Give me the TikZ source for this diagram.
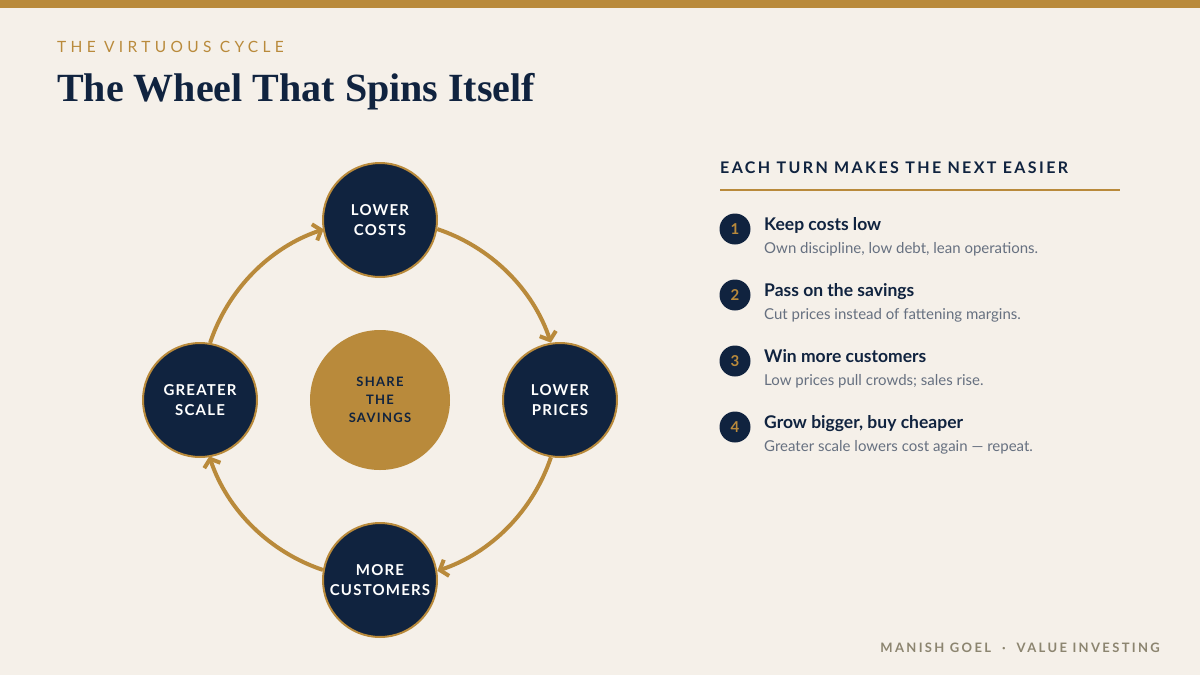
\documentclass[tikz,border=0pt]{standalone}
\usepackage{fontspec}
\setmainfont{Lato}
\newfontfamily\titlefont{Liberation Serif}
\usetikzlibrary{arrows.meta}
\definecolor{bg}{HTML}{F5F0E9}
\definecolor{gold}{HTML}{B98A3B}
\definecolor{navy}{HTML}{10233F}
\definecolor{subgrey}{HTML}{667080}
\definecolor{foot}{HTML}{8C8570}
\tikzset{
  wheelnode/.style={circle, fill=navy, draw=gold, line width=2pt, minimum size=114pt, inner sep=0pt,
    text=white, align=center, font=\fontsize{15}{20}\selectfont\bfseries\addfontfeature{LetterSpace=8}},
  hubnode/.style={circle, fill=gold, minimum size=140pt, inner sep=0pt, text=navy, align=center,
    font=\fontsize{13}{18}\selectfont\bfseries\addfontfeature{LetterSpace=10}},
  cyclearrow/.style={draw=gold, line width=4pt, -{Straight Barb[length=7pt,width=17pt,line width=4pt]}},
  numdot/.style={circle, fill=navy, minimum size=31pt, inner sep=0pt, text=gold,
    font=\fontsize{15}{15}\selectfont\bfseries},
  itemhead/.style={anchor=base west, inner sep=0pt, text=navy, font=\fontsize{17.5}{20}\selectfont\bfseries},
  itemsub/.style={anchor=base west, inner sep=0pt, text=subgrey, font=\fontsize{15}{17}\selectfont},
}
\begin{document}
\begin{tikzpicture}[x=1pt,y=-1pt]
\useasboundingbox (0,0) rectangle (1200,675);
\fill[bg] (0,0) rectangle (1200,675);
\fill[gold] (0,0) rectangle (1200,8);
% header
\node[anchor=base west, inner sep=0pt, text=gold, font=\fontsize{15.5}{15}\selectfont\addfontfeature{LetterSpace=28}] (kicker) at (57,52) {THE VIRTUOUS CYCLE};
\node[anchor=base west, inner sep=0pt, text=navy, font=\fontsize{40}{40}\selectfont\titlefont\bfseries] (title) at (57,101) {The Wheel That Spins Itself};
% wheel
\node[hubnode] (hub) at (380,400) {SHARE\\THE\\SAVINGS};
\node[wheelnode] (lc) at (380,220) {LOWER\\COSTS};
\node[wheelnode] (lp) at (560,400) {LOWER\\PRICES};
\node[wheelnode] (mc) at (380,580) {MORE\\CUSTOMERS};
\node[wheelnode] (gs) at (200,400) {GREATER\\SCALE};
\draw[cyclearrow] (lc.-9.25) arc[start angle=-71.5, end angle=-18.5, radius=180];
\draw[cyclearrow] (lp.-99.25) arc[start angle=18.5, end angle=71.5, radius=180];
\draw[cyclearrow] (mc.170.75) arc[start angle=108.5, end angle=161.5, radius=180];
\draw[cyclearrow] (gs.80.75) arc[start angle=198.5, end angle=251.5, radius=180];
% right panel
\node[anchor=base west, inner sep=0pt, text=navy, font=\fontsize{16}{16}\selectfont\bfseries\addfontfeature{LetterSpace=15}] (panelhead) at (720,173) {EACH TURN MAKES THE NEXT EASIER};
\coordinate (ruleL) at (720,190);
\coordinate (ruleR) at (1120,190);
\draw[gold, line width=2pt] (ruleL) -- (ruleR);
\node[numdot] (n1) at (735,229) {1};
\node[itemhead] (h1) at (764,230) {Keep costs low};
\node[itemsub] (s1) at (764,253) {Own discipline, low debt, lean operations.};
\node[numdot] (n2) at (735,295) {2};
\node[itemhead] (h2) at (764,296) {Pass on the savings};
\node[itemsub] (s2) at (764,319) {Cut prices instead of fattening margins.};
\node[numdot] (n3) at (735,361) {3};
\node[itemhead] (h3) at (764,362) {Win more customers};
\node[itemsub] (s3) at (764,385) {Low prices pull crowds; sales rise.};
\node[numdot] (n4) at (735,427) {4};
\node[itemhead] (h4) at (764,428) {Grow bigger, buy cheaper};
\node[itemsub] (s4) at (764,451) {Greater scale lowers cost again — repeat.};
% footer
\node[anchor=base east, inner sep=0pt, text=foot, font=\fontsize{13}{13}\selectfont\bfseries\addfontfeature{LetterSpace=18}] (footer) at (1160,652) {MANISH GOEL\ \ ·\ \ VALUE INVESTING};
\end{tikzpicture}
\end{document}
